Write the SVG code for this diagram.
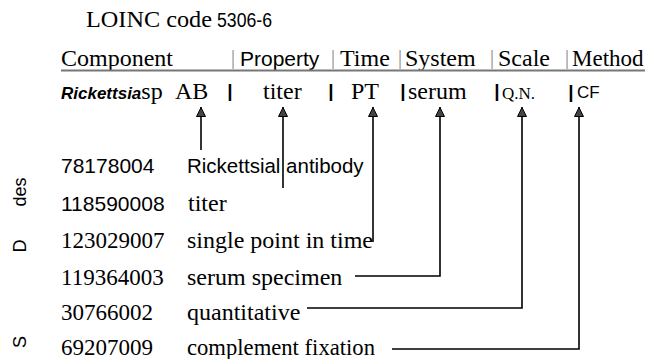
<svg xmlns="http://www.w3.org/2000/svg" width="647" height="359" viewBox="0 0 647 359">
<style>
.serif{font-family:"Liberation Serif","Times New Roman",serif;fill:#000}
.sans{font-family:"Liberation Sans",Arial,sans-serif;fill:#000}
.hbar{font-family:"Liberation Serif",serif;font-size:20px;fill:#888;text-anchor:middle}
.rbar{font-family:"Liberation Sans",Arial,sans-serif;font-size:19px;font-weight:bold;fill:#000;text-anchor:middle}
.conn{fill:none;stroke:#000;stroke-width:1.6;marker-start:url(#head)}
.side{font-family:"Liberation Sans",Arial,sans-serif;font-size:18px;fill:#000;text-anchor:middle}
</style>
<defs>
<marker id="head" viewBox="0 0 10 10" refX="10" refY="5" markerUnits="userSpaceOnUse" markerWidth="11" markerHeight="10" orient="auto-start-reverse">
<path d="M0.5,0.5 L9.5,5 L0.5,9.5 z" fill="#444" stroke="#000" stroke-width="1"/>
</marker>
</defs>
<rect width="647" height="359" fill="#fff"/>

<g id="title">
<text class="serif" x="86" y="27" font-size="24" textLength="126" lengthAdjust="spacingAndGlyphs">LOINC code</text>
<text class="sans" x="217" y="27" font-size="20" textLength="55" lengthAdjust="spacingAndGlyphs">5306-6</text>
</g>

<g id="header">
<text class="serif" x="61" y="66" font-size="24">Component</text>
<text class="hbar" x="233" y="64">|</text>
<text class="sans" x="240" y="66" font-size="21">Property</text>
<text class="hbar" x="333" y="64">|</text>
<text class="serif" x="340" y="66" font-size="24">Time</text>
<text class="hbar" x="400" y="64">|</text>
<text class="serif" x="405" y="66" font-size="24">System</text>
<text class="hbar" x="492" y="64">|</text>
<text class="serif" x="498" y="66" font-size="24">Scale</text>
<text class="hbar" x="567" y="64">|</text>
<text class="serif" x="572" y="66" font-size="23">Method</text>
<line x1="61" y1="70.5" x2="645" y2="70.5" stroke="#777" stroke-width="1.8"/>
</g>

<g id="loinc-parts">
<text x="61" y="99"><tspan class="sans" font-size="17" font-weight="bold" font-style="italic">Rickettsia</tspan><tspan class="serif" font-size="24">sp </tspan><tspan class="serif" font-size="24" x="175">AB</tspan></text>
<text class="rbar" x="230" y="97">|</text>
<text class="serif" x="263" y="99" font-size="24">titer</text>
<text class="rbar" x="331" y="97">|</text>
<text class="serif" x="351" y="99" font-size="24">PT</text>
<text class="rbar" x="403" y="97">|</text>
<text class="serif" x="408" y="99" font-size="24">serum</text>
<text class="rbar" x="497" y="97">|</text>
<text class="serif" x="502" y="99" font-size="17">Q.N.</text>
<text class="rbar" x="571" y="98" font-weight="normal">|</text>
<text class="sans" x="577" y="98" font-size="17">CF</text>
</g>

<g id="side-label">
<text class="side" transform="translate(26,192) rotate(-90)">des</text>
<text class="side" transform="translate(26,246) rotate(-90)">D</text>
<text class="side" transform="translate(26,342) rotate(-90)">S</text>
</g>

<g id="row1">
<text class="sans" x="61" y="173" font-size="21">78178004</text>
<text class="sans" x="187" y="173" font-size="20.5">Rickettsial antibody</text>
</g>
<g id="row2">
<text class="sans" x="61" y="211" font-size="21">118590008</text>
<text class="serif" x="188" y="211" font-size="24">titer</text>
</g>
<g id="row3">
<text class="serif" x="61" y="248" font-size="23">123029007</text>
<text class="serif" x="187" y="248" font-size="24">single point in time</text>
</g>
<g id="row4">
<text class="serif" x="61" y="285" font-size="23">119364003</text>
<text class="serif" x="187" y="285" font-size="24">serum specimen</text>
</g>
<g id="row5">
<text class="serif" x="61" y="320" font-size="23">30766002</text>
<text class="serif" x="187" y="320" font-size="24">quantitative</text>
</g>
<g id="row6">
<text class="serif" x="61" y="355" font-size="23">69207009</text>
<text class="serif" x="187" y="355" font-size="24" textLength="188" lengthAdjust="spacingAndGlyphs">complement fixation</text>
</g>

<g id="connectors">
<path class="conn" d="M201,107 V150"/>
<path class="conn" d="M283,107 V188"/>
<path class="conn" d="M373,107 V242"/>
<path class="conn" d="M440,107 V276 H355"/>
<path class="conn" d="M522,107 V308 H307"/>
<path class="conn" d="M579,107 V349 H392"/>
</g>
</svg>
